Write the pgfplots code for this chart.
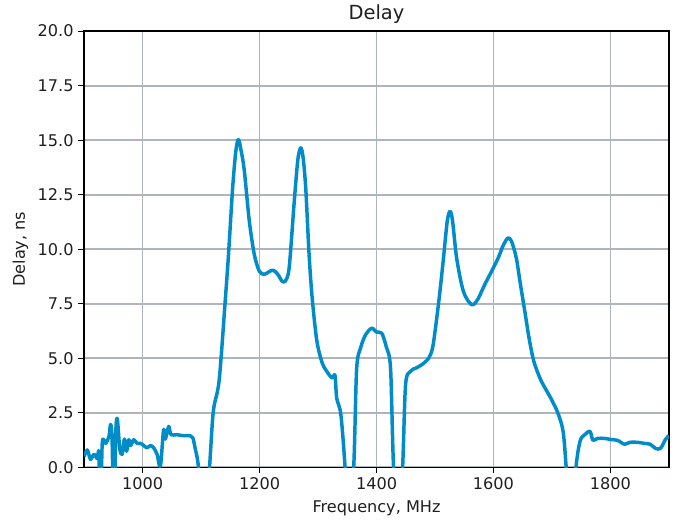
\documentclass[border=0pt]{standalone}
\usepackage{fontspec}
\setmainfont{DejaVu Sans}
\usepackage{pgfplots}
\pgfplotsset{compat=1.18}
\definecolor{curve}{RGB}{0,140,201}
\definecolor{gridc}{RGB}{176,180,190}
\definecolor{txt}{RGB}{30,30,30}
\begin{document}
\begin{tikzpicture}
\begin{axis}[
  at={(0,0)}, anchor=south west,
  scale only axis, width=421pt, height=314pt,
  xmin=900, xmax=1900, ymin=0, ymax=20,
  xtick={1000,1200,...,1800},
  ytick={0,2.5,...,20},
  yticklabel style={/pgf/number format/.cd,fixed,fixed zerofill,precision=1},
  xticklabel style={/pgf/number format/1000 sep={}},
  /pgf/number format/assume math mode=true,
  tick label style={font=\fontsize{11.6}{13}\selectfont, text=txt},
  label style={font=\fontsize{11.6}{13}\selectfont, text=txt},
  title style={font=\fontsize{14}{16}\selectfont, text=txt, yshift=-4pt},
  tick align=outside, tick pos=left,
  major tick length=4pt,
  tick style={black, line width=0.9pt},
  grid=major, grid style={gridc, line width=1.3pt},
  axis line style={black, line width=1.1pt},
  title={Delay},
  xlabel={Frequency, MHz}, ylabel={Delay, ns},
  xlabel style={yshift=-1pt}, ylabel style={yshift=0pt},
]
% delay curve, values below 0 run off the bottom of the axis
\addplot[curve, line width=2.5pt, smooth, tension=0.5, line join=round] coordinates {
(900,0.5) (905.6,0.8) (911,0.37) (917,0.6) (922.7,0.4) (925.5,0.6) (928,-3)
(931,1.05) (937,1.1) (942.5,1.4) (945.4,1.97) (948,1.2) (951,-3)
(954,1.4) (956.7,2.25) (961,0.87) (965,0.6) (969,1.3) (972.6,0.74)
(976.6,1.27) (979.5,1.0) (985,1.27) (990.7,1.1) (996.5,1.1) (1002,1.0)
(1007.7,0.9) (1013.5,1.0) (1019,0.9) (1024.8,0.6) (1030.5,0.05)
(1036,1.74) (1039,1.3) (1044.7,1.88) (1048.6,1.5) (1058.8,1.5) (1070,1.45)
(1081.6,1.45) (1086,1.35) (1090,0.87) (1095.7,0) (1106,-3) (1114.5,0)
(1121,2.57) (1131,4.0) (1141.7,7.77) (1147,9.77) (1154,12.8) (1159.5,14.5)
(1163.8,15.03) (1168,14.6) (1174,13.6) (1182.5,11.3) (1191,9.77)
(1199.5,9.0) (1208,8.85) (1215,8.95) (1222,9.04) (1228,8.95) (1233.6,8.76)
(1238,8.55) (1243.8,8.53) (1250.6,9.14) (1259,12.06) (1265.5,14.1)
(1270.5,14.65) (1274.5,14.2) (1279,12.8) (1284.7,9.77) (1290,7.77)
(1298,5.8) (1307,4.8) (1315,4.4) (1324,4.1) (1329,4.22) (1332,3.17)
(1339,2.43) (1346,0.1) (1352,-3) (1361,0) (1366,4.5) (1373,5.5)
(1381.7,6.1) (1392,6.38) (1400,6.2) (1409,6.15) (1417,5.5) (1424,4.55)
(1429,0.1) (1437,-3) (1444.6,0) (1449.7,3.8) (1458,4.4) (1467,4.55)
(1477,4.7) (1489,5.0) (1496,5.5) (1503,6.85) (1509,8.2) (1514.5,9.6)
(1521,11.3) (1525.8,11.74) (1530,11.3) (1537,9.6) (1548.5,8.07)
(1562.6,7.46) (1573,7.7) (1585,8.38) (1597,9.0) (1608,9.6) (1617,10.2)
(1625,10.52) (1631,10.35) (1639,9.6) (1646,8.4) (1653.5,7.16) (1661,5.9)
(1669,4.86) (1681,4.0) (1698,3.17) (1710,2.5) (1719,1.65) (1724,0.1)
(1732,-3) (1741,0) (1748,1.2) (1756,1.5) (1765,1.65) (1770,1.24)
(1778,1.33) (1790,1.33) (1800,1.28) (1812,1.24) (1824,1.06) (1833,1.15)
(1846,1.15) (1858,1.1) (1868,1.06) (1877,0.87) (1885.5,0.87) (1894,1.28)
(1900,1.45)
};
\end{axis}
\path[use as bounding box] (-60.5pt,-41pt) rectangle (427.5pt,335.6pt);
\end{tikzpicture}
\end{document}
